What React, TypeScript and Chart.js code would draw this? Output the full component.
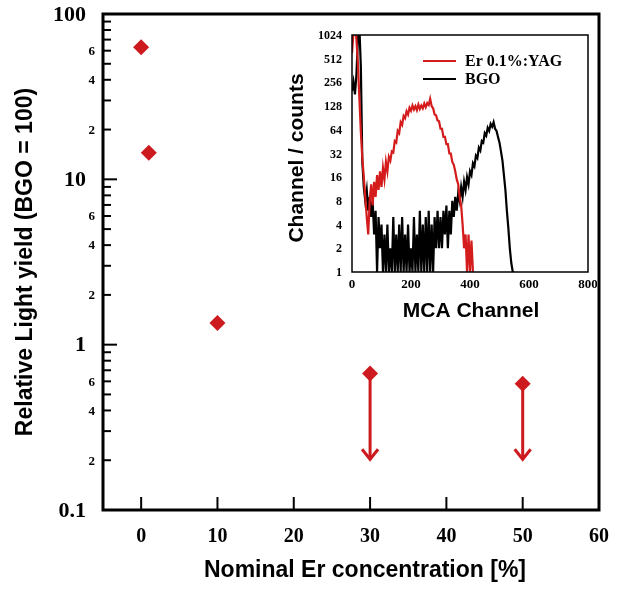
import React, { useEffect, useRef } from "react";
import { Chart, registerables } from "chart.js";

Chart.register(...registerables);

// ---------- main chart data ----------
const erConcentration = [0, 1, 10, 30, 50];
const lightYield = [63, 14.5, 1.35, 0.67, 0.58];
const upperLimitTo = [null, null, null, 0.2, 0.2];

const xTickValues = [0, 10, 20, 30, 40, 50, 60];
const yMajorTicks = [0.1, 1, 10, 100];
const yMajorLabels = ["0.1", "1", "10", "100"];
const yMinorMultipliers = [2, 3, 4, 5, 6, 7, 8, 9];
const yMinorLabelDigits = [2, 4, 6];

// ---------- inset (MCA spectra) data ----------
const mcaStep = 5;
const yagCounts = [
  600, 1100, 1400, 900, 450, 160, 60, 28, 16, 9,
  5, 3, 8, 13, 7, 14, 9, 17, 11, 19,
  12, 21, 15, 25, 19, 29, 26, 34, 33, 46,
  44, 62, 58, 80, 74, 96, 90, 110, 100, 122,
  112, 130, 116, 128, 114, 134, 118, 130, 120, 138,
  124, 140, 132, 158, 128, 120, 100, 98, 84, 82,
  66, 66, 52, 52, 42, 42, 32, 32, 25, 23,
  19, 15, 13, 9, 7, 4, 2, 3, 1, 3,
  1, 2.5, 1,
];
const bgoCounts = [
  200, 260, 180, 320, 900, 1300, 400, 25, 12, 8,
  11, 6, 9, 5, 8, 3, 6, 1, 5, 2,
  4, 1, 3, 1, 4, 1, 2, 1, 5, 1,
  3, 1, 4, 1, 5, 1, 3, 1, 4, 1,
  2, 1, 5, 1, 3, 1, 6, 1, 4, 1,
  5, 1, 6, 1, 4, 1, 5, 2, 6, 2,
  5, 2, 6, 3, 7, 2, 6, 3, 8, 5,
  9, 6, 10, 8, 12, 9, 14, 11, 16, 13,
  19, 17, 24, 22, 30, 28, 38, 35, 46, 44,
  58, 54, 68, 62, 76, 70, 80, 66, 62, 52,
  44, 34, 26, 17, 11, 6, 3.6, 2, 1.3, 1,
  1,
];
const insetYTicks = [1, 2, 4, 8, 16, 32, 64, 128, 256, 512, 1024];
const insetXTicks = [0, 200, 400, 600, 800];
const legendLabels = ["Er 0.1%:YAG", "BGO"];

const SERIF = '"Liberation Serif", "Times New Roman", serif';
const SANS = '"Liberation Sans", Arial, sans-serif';
const RED = "#cc1a1e";
const SPEC_RED = "#d41c1c";

const mainAxes = {
  id: "mainAxes",
  beforeDatasetsDraw(chart: any) {
    const { ctx, scales } = chart;
    const { x, y } = scales;
    ctx.save();
    ctx.strokeStyle = RED;
    ctx.lineWidth = 3;
    ctx.lineJoin = "miter";
    erConcentration.forEach((xv, i) => {
      const to = upperLimitTo[i];
      if (to == null) return;
      const px = x.getPixelForValue(xv);
      const py = y.getPixelForValue(lightYield[i]);
      const tip = y.getPixelForValue(to);
      ctx.beginPath();
      ctx.moveTo(px, py);
      ctx.lineTo(px, tip - 2);
      ctx.stroke();
      ctx.beginPath();
      ctx.moveTo(px - 8, tip - 11);
      ctx.lineTo(px, tip - 1);
      ctx.lineTo(px + 8, tip - 11);
      ctx.stroke();
    });
    ctx.restore();
  },
  afterDraw(chart: any) {
    const { ctx, chartArea: a, scales } = chart;
    const { x, y } = scales;
    ctx.save();
    ctx.strokeStyle = "#000";
    ctx.fillStyle = "#000";
    // frame
    ctx.lineWidth = 3;
    ctx.strokeRect(a.left, a.top, a.right - a.left, a.bottom - a.top);
    // y ticks (inward)
    ctx.lineWidth = 2;
    yMajorTicks.forEach((v) => {
      const py = y.getPixelForValue(v);
      ctx.beginPath();
      ctx.moveTo(a.left, py);
      ctx.lineTo(a.left + 14, py);
      ctx.stroke();
    });
    yMajorTicks.slice(0, -1).forEach((d) => {
      yMinorMultipliers.forEach((m) => {
        const py = y.getPixelForValue(d * m);
        ctx.beginPath();
        ctx.moveTo(a.left, py);
        ctx.lineTo(a.left + 8, py);
        ctx.stroke();
      });
    });
    // x ticks (inward)
    xTickValues.forEach((v) => {
      const px = x.getPixelForValue(v);
      ctx.beginPath();
      ctx.moveTo(px, a.bottom);
      ctx.lineTo(px, a.bottom - 13);
      ctx.stroke();
    });
    // y labels
    ctx.textBaseline = "middle";
    ctx.textAlign = "right";
    ctx.font = `bold 22px ${SERIF}`;
    yMajorTicks.forEach((v, i) => {
      ctx.fillText(yMajorLabels[i], a.left - 17, y.getPixelForValue(v) + 1);
    });
    ctx.font = `bold 13px ${SERIF}`;
    yMajorTicks.slice(0, -1).forEach((d) => {
      yMinorLabelDigits.forEach((m) => {
        ctx.fillText(String(m), a.left - 8, y.getPixelForValue(d * m) + 1);
      });
    });
    // x labels
    ctx.textAlign = "center";
    ctx.font = `bold 20px ${SERIF}`;
    xTickValues.forEach((v) => {
      ctx.fillText(String(v), x.getPixelForValue(v), a.bottom + 27);
    });
    // titles
    ctx.font = `bold 23px ${SANS}`;
    ctx.fillText("Nominal Er concentration [%]", 365, 571);
    ctx.save();
    ctx.translate(26, 262);
    ctx.rotate(-Math.PI / 2);
    ctx.fillText("Relative Light yield (BGO = 100)", 0, 0);
    ctx.restore();
    ctx.restore();
  },
};

const insetAxes = {
  id: "insetAxes",
  afterDraw(chart: any) {
    const { ctx, chartArea: a, scales } = chart;
    const { x, y } = scales;
    ctx.save();
    ctx.strokeStyle = "#000";
    ctx.fillStyle = "#000";
    ctx.lineWidth = 1.5;
    ctx.strokeRect(a.left, a.top, a.right - a.left, a.bottom - a.top);
    ctx.textBaseline = "middle";
    ctx.textAlign = "right";
    ctx.font = `bold 12px ${SERIF}`;
    insetYTicks.forEach((v) => {
      ctx.fillText(String(v), a.left - 10, y.getPixelForValue(v) + 1);
    });
    ctx.textAlign = "center";
    ctx.font = `bold 13px ${SERIF}`;
    insetXTicks.forEach((v) => {
      ctx.fillText(String(v), x.getPixelForValue(v), a.bottom + 13);
    });
    // titles
    ctx.font = `bold 21px ${SANS}`;
    ctx.fillText("MCA Channel", 191, 291);
    ctx.save();
    ctx.translate(17, 138);
    ctx.rotate(-Math.PI / 2);
    ctx.fillText("Channel / counts", 0, 0);
    ctx.restore();
    // legend
    const colors = [SPEC_RED, "#000"];
    const rows = [41, 59];
    ctx.lineWidth = 1.8;
    ctx.textAlign = "left";
    ctx.font = `bold 16px ${SERIF}`;
    legendLabels.forEach((lab, i) => {
      ctx.strokeStyle = colors[i];
      ctx.beginPath();
      ctx.moveTo(143, rows[i]);
      ctx.lineTo(176, rows[i]);
      ctx.stroke();
      ctx.fillStyle = "#000";
      ctx.fillText(lab, 185, rows[i] + 1);
    });
    ctx.restore();
  },
};

export default function App() {
  const mainRef = useRef<HTMLCanvasElement>(null);
  const insetRef = useRef<HTMLCanvasElement>(null);

  useEffect(() => {
    const main = new Chart(mainRef.current as HTMLCanvasElement, {
      type: "scatter",
      data: {
        datasets: [
          {
            data: erConcentration.map((xv, i) => ({ x: xv, y: lightYield[i] })),
            pointStyle: "rectRot",
            pointRadius: 8,
            pointBackgroundColor: RED,
            pointBorderColor: RED,
            pointBorderWidth: 0,
          },
        ],
      },
      options: {
        responsive: false,
        animation: false,
        layout: { padding: { left: 103, right: 18, top: 14, bottom: 82 } },
        scales: {
          x: { type: "linear", min: -5, max: 60, display: false },
          y: { type: "logarithmic", min: 0.1, max: 100, display: false },
        },
        plugins: { legend: { display: false }, tooltip: { enabled: false } },
      },
      plugins: [mainAxes],
    } as any);

    const toPoints = (arr: number[]) => arr.map((v, i) => ({ x: i * mcaStep, y: v }));
    const inset = new Chart(insetRef.current as HTMLCanvasElement, {
      type: "line",
      data: {
        datasets: [
          {
            label: legendLabels[0],
            data: toPoints(yagCounts),
            borderColor: SPEC_RED,
            borderWidth: 2.2,
            pointRadius: 0,
            tension: 0,
            clip: 0,
          },
          {
            label: legendLabels[1],
            data: toPoints(bgoCounts),
            borderColor: "#000",
            borderWidth: 2.2,
            pointRadius: 0,
            tension: 0,
            clip: 0,
          },
        ],
      },
      options: {
        responsive: false,
        animation: false,
        layout: { padding: { left: 72, right: 9, top: 15, bottom: 53 } },
        scales: {
          x: { type: "linear", min: 0, max: 800, display: false },
          y: { type: "logarithmic", min: 1, max: 1024, display: false },
        },
        plugins: { legend: { display: false }, tooltip: { enabled: false } },
      },
      plugins: [insetAxes],
    } as any);

    return () => {
      main.destroy();
      inset.destroy();
    };
  }, []);

  return (
    <div style={{ position: "fixed", left: 0, top: 0, width: 617, height: 592, background: "#fff" }}>
      <canvas ref={mainRef} width={617} height={592} style={{ position: "absolute", left: 0, top: 0 }} />
      <canvas ref={insetRef} width={317} height={305} style={{ position: "absolute", left: 280, top: 20 }} />
    </div>
  );
}
